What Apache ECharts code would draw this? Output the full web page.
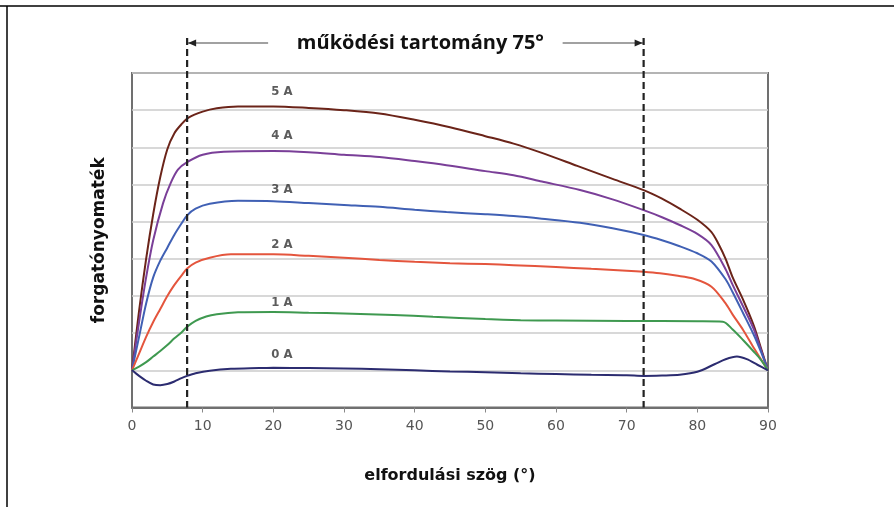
<!DOCTYPE html>
<html>
  <head>
    <meta charset="UTF-8">
    <title>forgatónyomaték</title>
    <script src="https://cdn.jsdelivr.net/npm/echarts@6/dist/echarts.min.js"></script>
  </head>
  <body style="margin:0">
    <div id="box" style="width:894px;height:507px"></div>
    <script>
        // görbék: [szög, nyomaték] párok (a rács egységeiben)
        var s5A = [[0,1],[1,2.6],[2,4.0],[3,5.2],[4,6.2],[5,6.95],[6,7.38],[7,7.62],[8,7.8],[10,7.96],[12,8.05],[15,8.1],[20,8.1],[25,8.06],[30,8.0],[35,7.91],[40,7.74],[45,7.54],[50,7.3],[54,7.1],[58,6.85],[63,6.5],[68,6.15],[72.4,5.85],[75,5.62],[77.5,5.35],[80,5.05],[82,4.72],[83,4.4],[84,4.0],[85,3.5],[86.5,2.89],[88,2.2],[89,1.6],[90,1]];
        var s4A = [[0,1],[1,2.3],[2,3.5],[3,4.5],[4.4,5.5],[5.5,6.05],[6.5,6.4],[7.8,6.6],[10,6.8],[13,6.88],[20,6.9],[25,6.87],[30,6.8],[35,6.74],[40,6.63],[44.5,6.52],[50,6.36],[54,6.25],[58,6.08],[63.4,5.85],[68,5.6],[72.4,5.31],[75,5.12],[77.5,4.91],[80,4.67],[82,4.37],[84,3.72],[85,3.3],[86.5,2.71],[88,2.1],[89,1.55],[90,1]];
        var s3A = [[0,1],[1,1.9],[2,2.8],[3,3.5],[4,3.95],[5,4.3],[6,4.65],[7,4.95],[7.8,5.17],[9,5.35],[11,5.48],[15,5.56],[20,5.55],[25,5.5],[30,5.45],[35,5.4],[40,5.32],[44.5,5.26],[50,5.2],[54,5.15],[58,5.08],[63.4,4.97],[68,4.82],[72.4,4.64],[75,4.5],[77.5,4.34],[80,4.15],[82,3.93],[84,3.45],[85,3.1],[86.5,2.53],[88,1.95],[89,1.5],[90,1]];
        var s2A = [[0,1],[1,1.45],[2,1.9],[3,2.3],[4,2.65],[5,3.0],[6,3.3],[7,3.55],[7.8,3.74],[9,3.9],[11,4.03],[14,4.12],[20,4.12],[25,4.08],[30,4.03],[35,3.97],[40,3.92],[45,3.88],[50,3.86],[54,3.83],[60,3.78],[65,3.73],[70,3.68],[72.4,3.65],[74.7,3.61],[77,3.55],[79.4,3.47],[82,3.25],[84,2.8],[85,2.5],[86.5,2.08],[88,1.6],[89,1.3],[90,1]];
        var s1A = [[0,1],[1,1.1],[2,1.22],[3,1.37],[4,1.52],[5,1.68],[6,1.86],[7,2.02],[7.8,2.17],[9,2.33],[10.5,2.45],[12,2.51],[15,2.56],[20,2.57],[25,2.55],[30,2.53],[37,2.49],[42.6,2.44],[50,2.38],[55,2.35],[60,2.34],[70,2.33],[80,2.32],[83.6,2.31],[85,2.1],[86.5,1.81],[88,1.5],[89,1.28],[90,1]];
        var s0A = [[0,1],[1,0.85],[2,0.72],[3,0.62],[4,0.6],[5,0.63],[6,0.7],[7,0.79],[7.8,0.85],[9,0.92],[11,0.99],[14,1.04],[18,1.06],[20,1.07],[25,1.06],[30,1.05],[35,1.03],[40,1.0],[45,0.97],[50,0.95],[55,0.92],[60,0.9],[65,0.88],[70,0.87],[72.4,0.85],[75,0.86],[77.5,0.88],[80,0.96],[82.5,1.17],[84,1.3],[85.6,1.37],[87,1.3],[88.5,1.15],[90,1]];

        var curveNames = ['5 A', '4 A', '3 A', '2 A', '1 A', '0 A'];
        var curveColors = ['#6b2419', '#7a3f98', '#4060b4', '#e4553d', '#3f9950', '#2c2c70'];
        var labelX = [21.2, 21.2, 21.2, 21.2, 21.2, 21.2];
        var labelY = [8.49, 7.32, 5.85, 4.37, 2.81, 1.41];
        var rangeLimits = [7.8, 72.4];   // működési tartomány határai

        var curves = [s5A, s4A, s3A, s2A, s1A, s0A];
        var series = curves.map(function(d, i) {
            return {
                name: curveNames[i],
                type: 'line',
                data: d,
                smooth: 0.3,
                showSymbol: false,
                lineStyle: {color: curveColors[i], width: 2},
                z: 3
            };
        });
        series.push({
            type: 'scatter',
            symbolSize: 1,
            itemStyle: {color: 'rgba(0,0,0,0)'},
            data: curveNames.map(function(n, i) { return {name: n, value: [labelX[i], labelY[i]]}; }),
            label: {
                show: true, position: 'inside', formatter: '{b}',
                color: '#333', fontWeight: 'bold', fontSize: 13,
                fontFamily: 'DejaVu Sans Condensed, DejaVu Sans'
            },
            z: 4
        });

        var myChart = echarts.init(document.getElementById('box'));
        myChart.setOption({
            animation: false,
            backgroundColor: '#fff',
            grid: {left: 132, right: 126, top: 73, bottom: 99.5, show: true,
                   borderColor: '#707070', borderWidth: 2},
            xAxis: {
                type: 'value', min: 0, max: 90, interval: 10,
                name: 'elfordulási szög (°)', nameLocation: 'middle', nameGap: 60,
                nameTextStyle: {fontSize: 16, fontWeight: 'bold', color: '#111', fontFamily: 'DejaVu Sans'},
                axisLine: {show: true, lineStyle: {color: '#707070', width: 2}},
                axisTick: {show: true, length: 5, lineStyle: {color: '#888'}},
                axisLabel: {color: '#555', fontSize: 14, margin: 12, fontFamily: 'DejaVu Sans'},
                splitLine: {show: false}
            },
            yAxis: {
                type: 'value', min: 0, max: 9, interval: 1,
                name: 'forgatónyomaték', nameLocation: 'middle', nameGap: 24,
                nameTextStyle: {fontSize: 17, fontWeight: 'bold', color: '#111', fontFamily: 'DejaVu Sans'},
                axisLine: {show: false}, axisTick: {show: false}, axisLabel: {show: false},
                splitLine: {lineStyle: {color: '#cbcbcb', width: 1.5}}
            },
            series: series
        });

        // szaggatott határvonalak és nyilak a tengely skáláján keresztül
        var xl = myChart.convertToPixel({gridIndex: 0}, [rangeLimits[0], 0]);
        var xr = myChart.convertToPixel({gridIndex: 0}, [rangeLimits[1], 0]);
        var yTop = 38, yArrow = 43;
        var dash = {stroke: '#222', lineWidth: 2.2, lineDash: [7, 4]};
        myChart.setOption({
            graphic: [
                {type: 'line', shape: {x1: 0, y1: 6, x2: 894, y2: 6}, style: {stroke: '#000', lineWidth: 1.5}},
                {type: 'line', shape: {x1: 7, y1: 6, x2: 7, y2: 507}, style: {stroke: '#000', lineWidth: 1.5}},
                {type: 'line', shape: {x1: xl[0], y1: yTop, x2: xl[0], y2: xl[1]}, style: dash, z: 10},
                {type: 'line', shape: {x1: xr[0], y1: yTop, x2: xr[0], y2: xr[1]}, style: dash, z: 10},
                {type: 'line', shape: {x1: xl[0], y1: yArrow, x2: xl[0] + 81, y2: yArrow}, style: {stroke: '#444', lineWidth: 1.2}},
                {type: 'polygon', shape: {points: [[xl[0] + 1, yArrow], [xl[0] + 9, yArrow - 3.5], [xl[0] + 9, yArrow + 3.5]]}, style: {fill: '#222'}},
                {type: 'line', shape: {x1: xr[0] - 81, y1: yArrow, x2: xr[0], y2: yArrow}, style: {stroke: '#444', lineWidth: 1.2}},
                {type: 'polygon', shape: {points: [[xr[0] - 1, yArrow], [xr[0] - 9, yArrow - 3.5], [xr[0] - 9, yArrow + 3.5]]}, style: {fill: '#222'}},
                {type: 'text', x: (xl[0] + xr[0]) / 2 + 5, y: yArrow, style: {
                    text: 'működési tartomány 75°', fill: '#111', fontSize: 20, fontWeight: 'bold',
                    fontFamily: 'Open Sans', align: 'center', verticalAlign: 'middle'}}
            ]
        });
    </script>
  </body>
</html>
